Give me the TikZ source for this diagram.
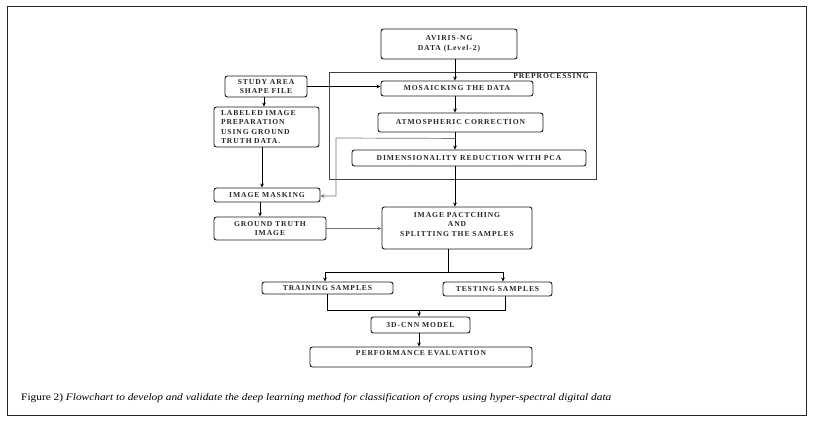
\documentclass[tikz,border=0pt]{standalone}
\usepackage{fontspec}
\setmainfont{Liberation Serif}
\newfontfamily\boxfont[LetterSpace=12]{Liberation Serif Bold}
\usetikzlibrary{arrows.meta}
\begin{document}
\begin{tikzpicture}[x=1pt,y=-1pt,
  txt/.style={inner sep=0pt, font=\boxfont\fontsize{7.6}{9.5}\selectfont, align=center, text=black!85},
  box/.style={txt, draw=black!90, line width=0.9pt, rounded corners=2.5pt},
  arr/.style={line width=0.9pt, -{Stealth[length=4pt,width=3.6pt]}},
  garr/.style={line width=0.7pt, draw=black!55, -{Stealth[length=4pt,width=3.6pt]}},
  ln/.style={line width=0.9pt}]
\useasboundingbox (0,0) rectangle (814,422);
\draw[line width=0.9pt, draw=black!85] (7,6) rectangle (806,415);

% preprocessing frame
\node[draw=black!75, line width=0.9pt, inner sep=0pt, minimum width=267pt, minimum height=107pt] (prep) at (462.5,125.5) {};
\node[txt, anchor=east] (preplabel) at (589,76.5) {PREPROCESSING};

\node[box, minimum width=136pt, minimum height=30pt] (aviris) at (449,44) {AVIRIS-NG\\DATA (Level-2)};
\node[box, minimum width=152pt, minimum height=15pt] (mosaic) at (457,88.5) {MOSAICKING THE DATA};
\node[box, minimum width=82pt, minimum height=21pt] (study) at (266,86.5) {STUDY AREA\\SHAPE FILE};
\node[box, minimum width=105pt, minimum height=40pt, text width=91pt, align=left] (labeled) at (266.5,127) {LABELED IMAGE\\PREPARATION\\USING GROUND\\TRUTH DATA.};
\node[box, minimum width=165pt, minimum height=19pt] (atmos) at (460.5,122.5) {ATMOSPHERIC CORRECTION};
\node[box, minimum width=234pt, minimum height=16pt] (dim) at (469,158) {DIMENSIONALITY REDUCTION WITH PCA};
\node[box, minimum width=106pt, minimum height=14pt] (mask) at (267,195) {IMAGE MASKING};
\node[box, minimum width=112pt, minimum height=23pt] (ground) at (270,228.5) {GROUND TRUTH\\IMAGE};
\node[box, minimum width=150pt, minimum height=42pt] (patch) at (457,228) {};
\node[txt] (patchtext) at (457,224.5) {IMAGE PACTCHING\\AND\\SPLITTING THE SAMPLES};
\node[box, minimum width=131pt, minimum height=12pt] (train) at (327.5,288) {TRAINING SAMPLES};
\node[box, minimum width=109pt, minimum height=14pt] (test) at (497.5,289) {TESTING SAMPLES};
\node[box, minimum width=99pt, minimum height=16pt] (cnn) at (420.5,325) {3D-CNN MODEL};
\node[box, minimum width=222pt, minimum height=20pt] (perf) at (421,357) {};
\node[txt] (perftext) at (421,353) {PERFORMANCE EVALUATION};

% connectors
\draw[arr] ([xshift=6pt]aviris.south) -- ([xshift=6pt]aviris.south |- mosaic.north);
\draw[arr] (study.east) -- (study.east -| mosaic.west);
\draw[arr] ([xshift=-2pt]study.south) -- ([xshift=-2pt]study.south |- labeled.north);
\draw[arr] ([xshift=-2pt]mosaic.south) -- ([xshift=-2pt]mosaic.south |- atmos.north);
\draw[arr] ([xshift=-5.5pt]atmos.south) -- ([xshift=-5.5pt]atmos.south |- dim.north);
\draw[arr] ([xshift=-4.5pt]labeled.south) -- ([xshift=-4.5pt]labeled.south |- mask.north);
\draw[arr] ([xshift=-7pt]mask.south) -- ([xshift=-7pt]mask.south |- ground.north);
\draw[arr] ([xshift=-14pt]dim.south) -- ([xshift=-14pt]dim.south |- patch.north);
\coordinate (fb) at ([xshift=-5.5pt,yshift=-6pt]atmos.south);
\draw[garr] (fb) -- (336,138) -- (336,196) -- (mask.east |- 0,196);
\draw[garr] (ground.east) -- (ground.east -| patch.west);

\coordinate (split) at ([xshift=-9pt]patch.south |- 0,272);
\draw[ln] ([xshift=-9pt]patch.south) -- (split);
\draw[ln] (325,272) -- (503,272);
\draw[arr] (325,272) -- (325,272 |- train.north);
\draw[arr] (503,272) -- (503,272 |- test.north);
\draw[ln] (train.south) -- (327.5,310) -- (505,310) -- (505,310 |- test.south);
\draw[arr] (419,310) -- (419,310 |- cnn.north);
\draw[arr] ([xshift=-1.5pt]cnn.south) -- ([xshift=-1.5pt]cnn.south |- perf.north);

\node[anchor=base west, inner sep=0pt, font=\fontsize{10}{12}\selectfont] (caption) at (21,400) {\scalebox{1.135}[1]{Figure 2) \textit{Flowchart to develop and validate the deep learning method for classification of crops using hyper-spectral digital data}}};
\end{tikzpicture}
\end{document}
